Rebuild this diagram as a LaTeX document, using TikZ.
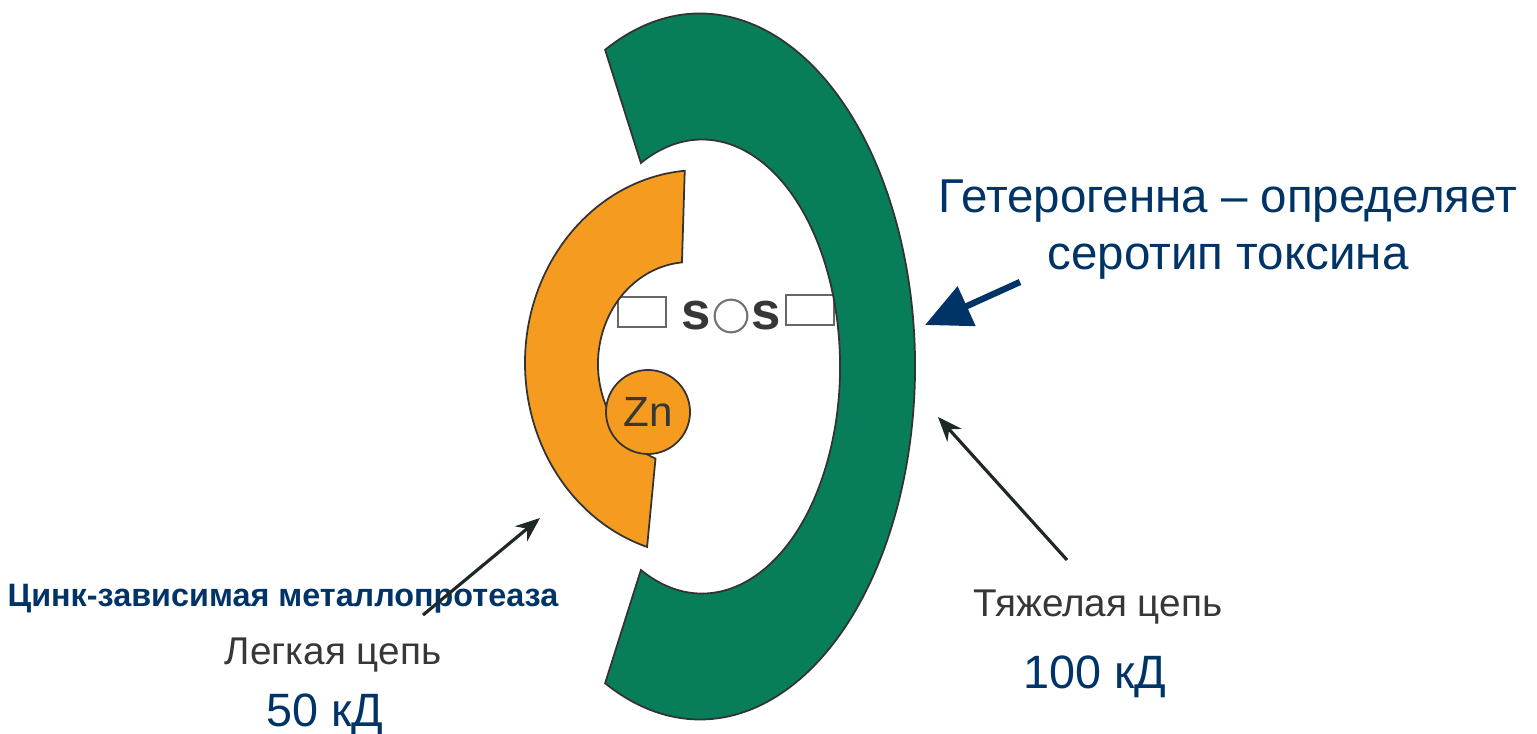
\documentclass[tikz,border=0pt]{standalone}
\usepackage{fontspec}
\setmainfont{Liberation Sans}
\usetikzlibrary{arrows.meta}

\definecolor{heavygreen}{RGB}{8,125,90}
\definecolor{lightorange}{RGB}{244,155,32}
\definecolor{navy}{RGB}{0,51,102}
\definecolor{arrowdark}{RGB}{30,40,38}
\definecolor{graytxt}{RGB}{55,55,55}

\begin{document}
\begin{tikzpicture}[x=0.01cm, y=0.01cm]
    \tikzstyle{chain}=[draw=black!80, line width=0.5pt];
    \tikzstyle{bridge}=[draw=black!60, fill=white, line width=0.6pt, minimum width=13.5pt, minimum height=8.5pt, inner sep=0pt];
    \tikzstyle{sulfur}=[text=graytxt, font=\fontsize{15}{15}\selectfont\bfseries, inner sep=0pt];
    \tikzstyle{ring}=[circle, draw=black!55, line width=0.6pt, minimum size=9.3pt, inner sep=0pt];
    \tikzstyle{zinc}=[circle, chain, fill=lightorange, minimum size=23.9pt, inner sep=0pt, text=graytxt, font=\fontsize{12}{12}\selectfont];
    \tikzstyle{navytext}=[text=navy, align=center, anchor=base, font=\fontsize{13.5}{16.3}\selectfont];
    \tikzstyle{kd}=[text=navy, anchor=base, font=\fontsize{13.3}{15}\selectfont];
    \tikzstyle{graytext}=[text=graytxt, anchor=base, font=\fontsize{11}{13}\selectfont];
    \tikzstyle{pointer}=[-{Stealth[length=7pt,width=5.5pt]}, line width=0.9pt, draw=arrowdark];
    \tikzstyle{bigpointer}=[-{Triangle[length=13pt,width=12pt]}, line width=1.8pt, draw=navy];

    \useasboundingbox (0,0) rectangle (1537,733);

    % disulfide bridge, the boxes sit under both chains
    \node[bridge] (boxL) at (642,421) {};
    \node[bridge] (boxR) at (810,423) {};
    \node[sulfur] (s1) at (696,417) {s};
    \node[ring] (ss) at (731,417) {};
    \node[sulfur] (s2) at (766,417) {s};

    % heavy chain
    \draw[chain, fill=heavygreen] (605.1,683.2)
        arc[start angle=116.2, end angle=-116.2, x radius=215, y radius=353]
        -- (640.9,163)
        arc[start angle=-116.3, end angle=116.3, x radius=138, y radius=227]
        -- cycle;

    % light chain
    \draw[chain, fill=lightorange] (684.75,562.27)
        arc[start angle=95, end angle=252.4, x radius=175, y radius=193]
        -- (655.5,274.4)
        arc[start angle=248, end angle=95, x radius=92, y radius=102]
        -- cycle;
    \node[zinc] (zn) at (648,321) {Zn};

    % labels
    \node[navytext] (hetero) at (1228,463) {Гетерогенна – определяет\\серотип токсина};
    \node[text=navy, anchor=base, font=\fontsize{9.2}{11}\selectfont\bfseries] (metal) at (283,127) {Цинк-зависимая металлопротеаза};
    \node[graytext] (light) at (333,69) {Легкая цепь};
    \node[kd] (kd50) at (325,7) {50 кД};
    \node[graytext] (heavy) at (1098,117) {Тяжелая цепь};
    \node[kd] (kd100) at (1095,45) {100 кД};

    \coordinate (navyTail) at (1020,451);
    \coordinate (navyTip) at (925,408);
    \coordinate (heavyTail) at (1067,173);
    \coordinate (heavyTip) at (938,316);
    \coordinate (lightTail) at (423,118);
    \coordinate (lightTip) at (540,215);

    \draw[bigpointer] (navyTail) -- (navyTip);
    \draw[pointer] (heavyTail) -- (heavyTip);
    \draw[pointer] (lightTail) -- (lightTip);
\end{tikzpicture}
\end{document}
